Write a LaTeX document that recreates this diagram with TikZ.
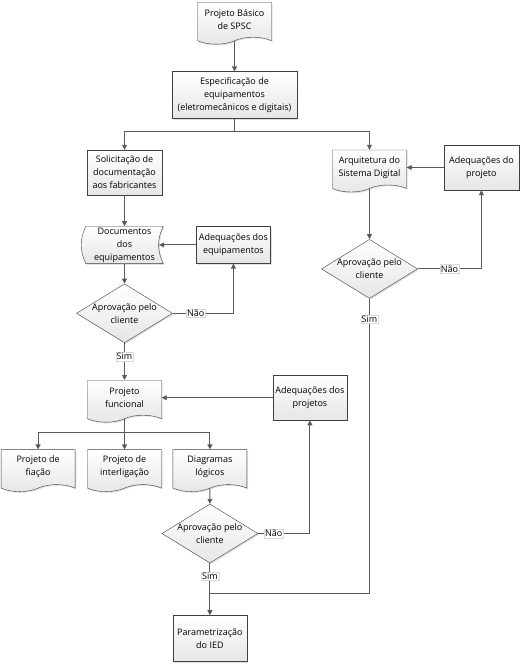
\documentclass[tikz,border=0pt]{standalone}
\usepackage{fontspec}
\setmainfont{Open Sans}
\usetikzlibrary{shapes.geometric,shapes.symbols,arrows.meta,positioning,shadows,backgrounds}

\definecolor{edgegray}{HTML}{404040}
\definecolor{linegray}{HTML}{595959}
\definecolor{shadegray}{HTML}{E6E6E6}

\begin{document}
\begin{tikzpicture}[
  x=1pt, y=1pt,
  look/.style={draw=edgegray, top color=white, bottom color=shadegray, drop shadow={opacity=0.25, shadow xshift=1.2pt, shadow yshift=-1.2pt}},
  txt/.style={align=center, font=\fontsize{9}{13}\selectfont},
  block/.style={look, txt, rectangle, inner sep=1pt, minimum width=75pt, minimum height=45pt},
  doc/.style={look, txt, tape, tape bend top=none, tape bend bottom=in and out, tape bend height=7pt, inner sep=1pt, minimum width=74pt, minimum height=42pt},
  stored/.style={txt, rectangle, inner sep=1pt, minimum width=77pt, minimum height=37pt},
  decision/.style={look, txt, diamond, aspect=1.6, inner sep=-5pt, minimum width=96pt, minimum height=59pt},
  arrow/.style={-{Triangle[length=5pt,width=5pt]}, draw=linegray, line width=0.9pt},
  line/.style={draw=linegray, line width=0.9pt},
  answer/.style={fill=white, draw=black!15, line width=0.3pt, inner sep=1pt, font=\fontsize{9}{10}\selectfont}
]
  \useasboundingbox (0,0) rectangle (531,-670);

  \node[doc, anchor=north] (spsc) at (234.5,-2) {Projeto Básico\\de SPSC};
  \node[block, below=34pt of spsc, minimum width=125pt, minimum height=47pt] (espec) {Especificação de\\equipamentos\\(eletromecânicos e digitais)};
  \coordinate[below=13pt of espec] (split1);
  \node[block, below=31pt of espec, xshift=-110pt] (solic) {Solicitação de\\documentação\\aos fabricantes};
  \node[doc, below=31pt of espec, xshift=135pt] (arq) {Arquitetura do\\Sistema Digital};
  \node[block, right=37pt of arq] (adeqp) {Adequações do\\projeto};
  \node[stored, below=31pt of solic] (docs) {Documentos\\dos\\equipamentos};
  \node[block, right=33pt of docs, minimum width=74pt, minimum height=37pt] (adeqe) {Adequações dos\\equipamentos};
  \node[decision, below=20pt of docs] (dec1) {Aprovação pelo\\cliente};
  \node[decision, below=54pt of arq] (dec2) {Aprovação pelo\\cliente};
  \node[doc, below=37pt of dec1] (pfunc) {Projeto\\funcional};
  \node[block, right=111pt of pfunc, minimum width=74pt] (adeqj) {Adequações dos\\projetos};
  \coordinate[below=17pt of pfunc] (split2);
  \node[doc, below=34pt of pfunc] (interlig) {Projeto de\\interligação};
  \node[doc, left=12pt of interlig] (fiacao) {Projeto de\\fiação};
  \node[doc, right=11pt of interlig] (diag) {Diagramas\\lógicos};
  \node[decision, below=19pt of diag] (dec3) {Aprovação pelo\\cliente};
  \node[block, below=52pt of dec3, minimum width=74pt, minimum height=46pt] (param) {Parametrização\\do IED};
  \coordinate[above=22pt of param] (merge);

  % stored data outline
  \begin{scope}[on background layer]
    \draw[look] (docs.north west) to[bend right=25] (docs.south west) -- (docs.south east) to[bend left=25] (docs.north east) -- cycle;
  \end{scope}

  \draw[arrow] (spsc) -- (espec);
  \draw[line] (espec) -- (split1);
  \draw[arrow] (split1) -| (solic.north);
  \draw[arrow] (split1) -| (arq.north);
  \draw[arrow] (solic) -- (docs);
  \draw[arrow] (docs) -- (dec1);
  \draw[arrow] (dec1.east) -| node[answer, pos=0.19] (nao1) {Não} (adeqe.south);
  \draw[arrow] (adeqe.west) -- ([xshift=-4pt]adeqe.west -| docs.east);
  \draw[arrow] (dec1.south) -- node[answer, pos=0.37] (sim1) {Sim} (pfunc.north);
  \draw[arrow] (arq) -- (dec2);
  \draw[arrow] (dec2.east) -| node[answer, pos=0.25] (nao2) {Não} (adeqp.south);
  \draw[arrow] (adeqp.west) -- (adeqp.west -| arq.east);
  \draw[line] (dec2.south) -- node[answer, pos=0.07] (sim2) {Sim} (dec2.south |- merge) -- (merge);
  \draw[arrow] (adeqj.west) -- (adeqj.west -| pfunc.east);
  \draw[line] (pfunc) -- (split2);
  \draw[arrow] (split2) -| (fiacao.north);
  \draw[arrow] (split2) -- (interlig);
  \draw[arrow] (split2) -| (diag.north);
  \draw[arrow] (diag) -- (dec3);
  \draw[arrow] (dec3.east) -| node[answer, pos=0.15] (nao3) {Não} (adeqj.south);
  \draw[arrow] (dec3.south) -- node[answer, pos=0.25] (sim3) {Sim} (param.north);
\end{tikzpicture}
\end{document}
